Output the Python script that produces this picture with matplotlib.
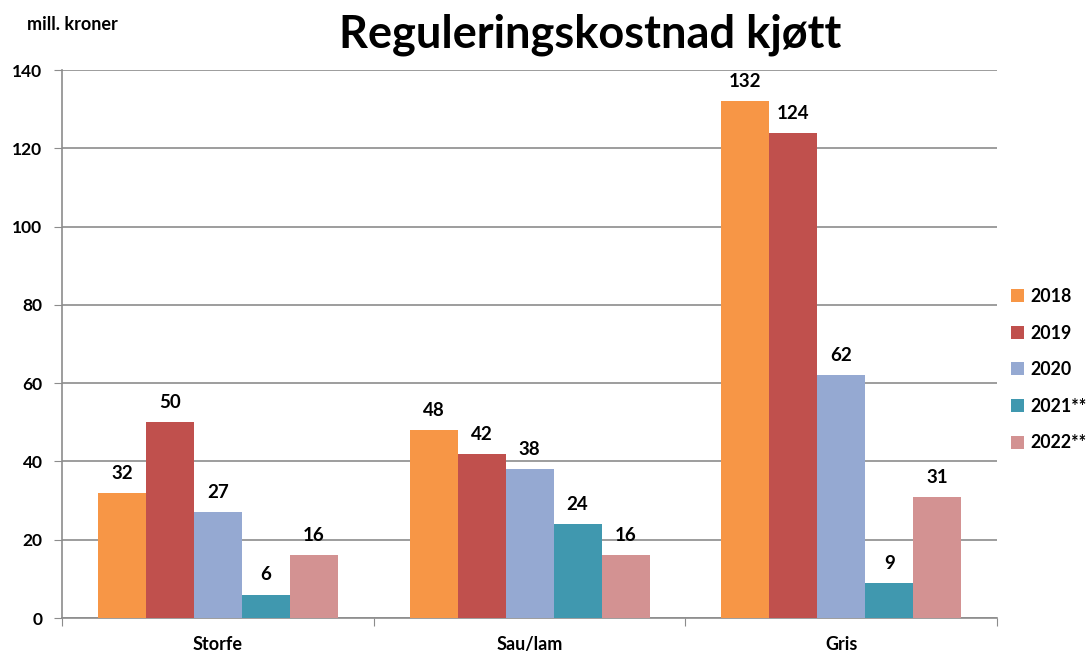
import numpy as np
import matplotlib.pyplot as plt
from matplotlib.patches import Patch

plt.rcParams["font.family"] = ["Lato", "DejaVu Sans"]
plt.rcParams["font.weight"] = "bold"

categories = ["Storfe", "Sau/lam", "Gris"]
years = ["2018", "2019", "2020", "2021**", "2022**"]
v2018 = [32, 48, 132]
v2019 = [50, 42, 124]
v2020 = [27, 38, 62]
v2021 = [6, 24, 9]
v2022 = [16, 16, 31]
series = [v2018, v2019, v2020, v2021, v2022]
colors = ["#F79646", "#C0504D", "#95A9D2", "#4098AF", "#D39292"]

GRID = "#8C8C8C"

fig = plt.figure(figsize=(10.91, 6.52), dpi=100)
ax = fig.add_axes([0.0568, 0.0521, 0.8571, 0.8405])

x = np.arange(len(categories))
w = 0.154
for i, (vals, c) in enumerate(zip(series, colors)):
    pos = x + (i - 2) * w
    ax.bar(pos, vals, width=w, color=c, edgecolor="none", zorder=3)
    for p, v in zip(pos, vals):
        ax.annotate(str(v), (p, v), xytext=(0, 8), textcoords="offset points",
                    ha="center", va="bottom", fontsize=13.5, fontweight="bold")

ax.set_xlim(-0.5, 2.5)
ax.set_ylim(0, 140)
ax.set_yticks(np.arange(0, 141, 20))
ax.set_xticks([-0.5, 0.5, 1.5, 2.5])
ax.set_xticklabels([])
ax.set_xticks(x, minor=True)
ax.set_xticklabels(categories, minor=True)
ax.tick_params(axis="x", which="minor", length=0, pad=13, labelsize=13)
ax.tick_params(axis="x", which="major", length=6, color=GRID, direction="out")
ax.tick_params(axis="y", length=6, color=GRID, direction="out", labelsize=12.5, pad=8)
for lab in ax.get_yticklabels() + ax.get_xticklabels(minor=True):
    lab.set_fontweight("bold")

ax.grid(axis="y", color=GRID, linewidth=1.2, zorder=0)
ax.set_axisbelow(True)
for s in ["top", "right"]:
    ax.spines[s].set_visible(False)
for s in ["left", "bottom"]:
    ax.spines[s].set_color(GRID)
    ax.spines[s].set_linewidth(1.2)

fig.text(0.541, 0.946, "Reguleringskostnad kjøtt", ha="center", va="center",
         fontsize=32.5, fontweight="bold")
fig.text(0.025, 0.962, "mill. kroner", ha="left", va="center", fontsize=13,
         fontweight="bold")

handles = [Patch(facecolor=c, edgecolor="none", label=y) for c, y in zip(colors, years)]
fig.legend(handles=handles, loc="center left", bbox_to_anchor=(0.917, 0.433),
           frameon=False, handlelength=0.75, handleheight=0.75,
           handletextpad=0.35, labelspacing=1.1, borderaxespad=0.2,
           prop={"weight": "bold", "size": 12.8})

fig.savefig("out.png", dpi=100)
